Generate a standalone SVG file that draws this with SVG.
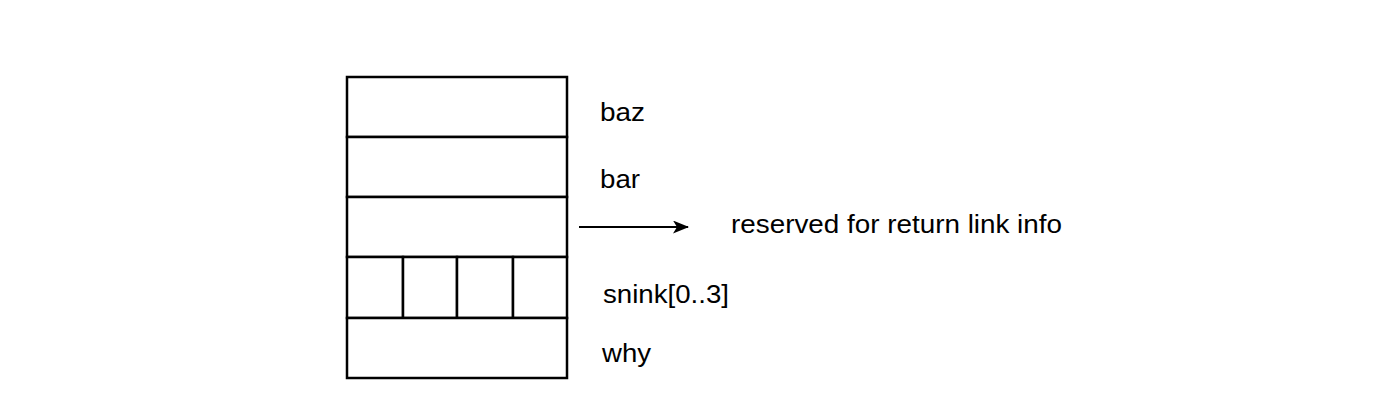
<svg xmlns="http://www.w3.org/2000/svg" width="1398" height="420" viewBox="0 0 1398 420">
<defs>
<style>
.cell{fill:#ffffff;stroke:#000000;stroke-width:2.5}
.lbl{font-family:"Liberation Sans",Arial,sans-serif;font-size:25px;fill:#000000}
.conn{stroke:#000000;stroke-width:2;fill:none}
</style>
<marker id="arr" markerWidth="16" markerHeight="13" refX="15" refY="6.5" orient="auto" markerUnits="userSpaceOnUse">
<path d="M0,0 L16,6.5 L0,13 L4,6.5 Z" fill="#000000"/>
</marker>
</defs>
<rect width="1398" height="420" fill="#ffffff"/>
<g id="baz"><rect class="cell" x="347" y="77" width="220" height="60"/><text class="lbl" x="600" y="121" textLength="45" lengthAdjust="spacingAndGlyphs">baz</text></g>
<g id="bar"><rect class="cell" x="347" y="137" width="220" height="60"/><text class="lbl" x="600" y="188" textLength="40" lengthAdjust="spacingAndGlyphs">bar</text></g>
<g id="reserved"><rect class="cell" x="347" y="197" width="220" height="60"/></g>
<g id="snink">
<rect class="cell" x="347" y="257" width="56" height="61"/>
<rect class="cell" x="403" y="257" width="54" height="61"/>
<rect class="cell" x="457" y="257" width="56" height="61"/>
<rect class="cell" x="513" y="257" width="54" height="61"/>
<text class="lbl" x="603" y="303" textLength="126" lengthAdjust="spacingAndGlyphs">snink[0..3]</text></g>
<g id="why"><rect class="cell" x="347" y="318" width="220" height="60"/><text class="lbl" x="602" y="362" textLength="49" lengthAdjust="spacingAndGlyphs">why</text></g>
<g id="label-reserved"><text class="lbl" x="731" y="233" textLength="331" lengthAdjust="spacingAndGlyphs">reserved for return link info</text></g>
<g id="connectors"><line class="conn" x1="579" y1="227" x2="688" y2="227" marker-end="url(#arr)"/></g>
</svg>
